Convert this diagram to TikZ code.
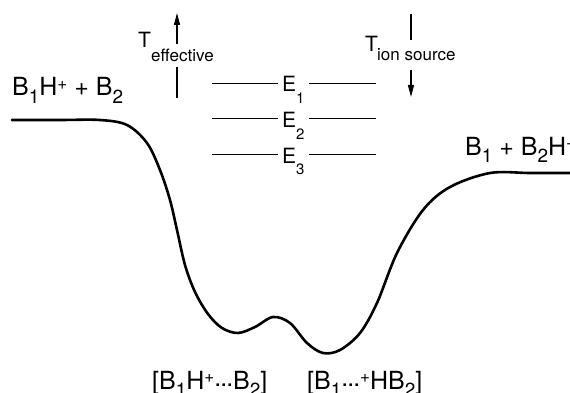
\documentclass[tikz,border=0pt]{standalone}
\usepackage{fontspec}
\setmainfont{TeX Gyre Heros}
\usepackage{tikz}
\usetikzlibrary{arrows.meta}
\newcommand{\spsub}[1]{\raisebox{-0.3em}{\fontsize{19}{19}\selectfont #1}}
\newcommand{\spsup}[1]{\raisebox{0.26em}{\fontsize{17}{17}\selectfont #1}}
\newcommand{\lvsub}[1]{\raisebox{-0.55em}{\fontsize{15}{15}\selectfont #1}}
\newcommand{\weakdots}{\raisebox{0.12em}{.\kern-1pt.\kern-1pt.}}
\tikzset{
  species/.style={font=\fontsize{25}{30}\selectfont, inner sep=0pt, anchor=base west},
  tsym/.style={font=\fontsize{21}{25}\selectfont, inner sep=0pt, anchor=base west},
  tsub/.style={font=\fontsize{17}{20}\selectfont, inner xsep=0pt, anchor=base west},
  elevel/.style={font=\fontsize{21}{25}\selectfont, inner sep=4pt, anchor=base west},
  surface/.style={line width=2.6pt, line join=round, line cap=round},
  level/.style={line width=0.8pt},
  shaft/.style={line width=1.2pt},
  tarrow/.style={-{Triangle[length=12pt, width=6pt]}, line width=1.2pt},
}

\begin{document}
\begin{tikzpicture}[x=1pt, y=-1pt]
  \useasboundingbox (0,0) rectangle (570,393);

  % Potential energy surface
  \draw[surface] plot[smooth, tension=0.55] coordinates {
    (12,120) (60,120) (100,120) (127,125) (147,143) (160,170) (170,200)
    (177,230) (185,265) (195,292) (208,314) (222,328) (238,333) (255,327)
    (273,317) (290,323) (307,343) (323,353) (340,350) (360,333) (377,303)
    (397,253) (423,210) (450,187) (490,173) (530,173) (572,173)};

  % Species
  \node[species] (reactants) at (12,96) {B\spsub{1}H\spsup{+} + B\spsub{2}};
  \node[species] (products) at (465,155) {B\spsub{1} + B\spsub{2}H\spsup{+}};
  \node[species] (complexA) at (152,389) {[B\spsub{1}H\spsup{+}\weakdots B\spsub{2}]};
  \node[species] (complexB) at (307,389) {[B\spsub{1}\weakdots\spsup{+}HB\spsub{2}]};

  % T effective
  \coordinate (efftop) at (177,13);
  \coordinate (effbot) at (177,98);
  \node[tsym] (Teff) at (138,48) {T};
  \node[tsub, inner ysep=5pt] (effsub) at (151,62) {effective};
  \draw[shaft] (effbot) -- (effbot |- effsub.south);
  \draw[tarrow] (efftop |- effsub.north) -- (efftop);

  % T ion source
  \coordinate (iontop) at (411,14);
  \coordinate (ionbot) at (411,97);
  \node[tsym] (Tion) at (365,52) {T};
  \node[tsub, inner ysep=8.5pt] (ionsub) at (377,61) {ion source};
  \draw[shaft] (iontop) -- (iontop |- ionsub.north);
  \draw[tarrow] (ionbot |- ionsub.south) -- (ionbot);

  % Energy levels
  \foreach \n/\ly/\by in {1/83/92, 2/118/128, 3/154/163} {
    \node[elevel] (E\n) at (278,\by) {E\lvsub{\n}};
    \coordinate (L\n) at (212,\ly);
    \coordinate (R\n) at (376,\ly);
    \draw[level] (L\n) -- (L\n -| E\n.west);
    \draw[level] (L\n -| E\n.east) -- (R\n);
  }
\end{tikzpicture}
\end{document}
